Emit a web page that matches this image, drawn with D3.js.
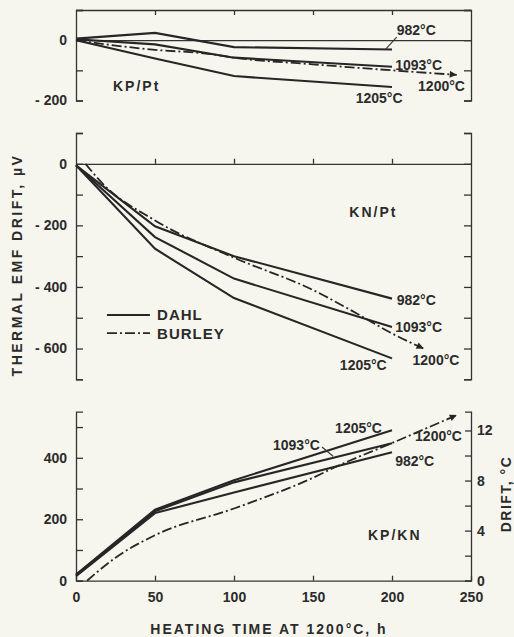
<!DOCTYPE html>
<html lang="en">
<head>
  <meta charset="UTF-8">
  <title>Thermal EMF drift</title>
  <script src="https://d3js.org/d3.v7.min.js"></script>
  <style>
    body {
      margin: 0;
      background: #f7f6ee;
    }
    svg text {
      font-family: "Liberation Sans", Arial, sans-serif;
      font-weight: bold;
      fill: #2b2b2b;
    }
    .axis path,
    .axis line {
      fill: none;
      stroke: #333;
      stroke-width: 1.3px;
    }
    .axis text {
      font-size: 14px;
    }
    .dahl {
      fill: none;
      stroke: #262626;
      stroke-width: 2.1px;
    }
    .burley {
      fill: none;
      stroke: #262626;
      stroke-width: 1.8px;
      stroke-dasharray: 10 3 2 3;
    }
    .lbl {
      font-size: 14px;
    }
    .panel {
      font-size: 14px;
      letter-spacing: 2px;
    }
  </style>
</head>
<body>
  <svg id="chart" width="514" height="637"></svg>

  <script>
    // heating time, h (Dahl measurements)
    const hours = [0, 50, 100, 200];

    // KP/Pt drift, microvolts
    const kpPt982 = [5, 24, -23, -31];
    const kpPt1093 = [3, -14, -58, -88];
    const kpPt1205 = [0, -61, -119, -155];
    const burleyPtHours = [0, 25, 50, 85, 100, 150, 200, 241];
    const burleyPt = [0, -18, -32, -46, -58, -80, -100, -115];

    // KN/Pt drift, microvolts
    const knPt982 = [-5, -203, -300, -438];
    const knPt1093 = [-5, -238, -373, -530];
    const knPt1205 = [-5, -276, -436, -632];
    const burleyKnHours = [6, 17, 50, 100, 150, 178, 200, 220];
    const burleyKn = [0, -65, -184, -305, -410, -487, -551, -600];

    // KP/KN drift, microvolts
    const kpKn982 = [15, 220, 287, 418];
    const kpKn1093 = [18, 226, 320, 447];
    const kpKn1205 = [20, 231, 327, 490];
    const burleyKpKnHours = [7, 25, 50, 100, 150, 165, 200, 241];
    const burleyKpKn = [0, 75, 148, 235, 335, 372, 448, 539];

    const xTicks = [0, 50, 100, 150, 200, 250];

    const svg = d3.select("#chart");
    svg.append("rect").attr("width", 514).attr("height", 637).attr("fill", "#f7f6ee");

    svg.append("defs").append("marker")
      .attr("id", "arrow")
      .attr("viewBox", "0 0 10 10")
      .attr("refX", 10).attr("refY", 5)
      .attr("markerWidth", 11).attr("markerHeight", 7)
      .attr("markerUnits", "userSpaceOnUse")
      .attr("orient", "auto")
      .append("path")
      .attr("d", "M0,0 L10,5 L0,10 z")
      .attr("fill", "#262626");

    const x = d3.scaleLinear().domain([0, 250]).range([76, 471]);
    const yTop = d3.scaleLinear().domain([-200, 100]).range([100.5, 10]);
    const yMid = d3.scaleLinear().domain([-700, 100]).range([379.3, 133]);
    const yBot = d3.scaleLinear().domain([0, 550]).range([580.7, 411.7]);
    const yBotR = d3.scaleLinear().domain([0, 13.5]).range([580.7, 411.7]);

    const fmt = keep => v => keep.includes(v) ? (v < 0 ? "- " + (-v) : String(v)) : "";

    function series(xs, ys) {
      return xs.map((t, i) => [t, ys[i]]);
    }

    function drawLine(y, data, cls, curve) {
      const line = d3.line().x(d => x(d[0])).y(d => y(d[1])).curve(curve || d3.curveLinear);
      const p = svg.append("path").attr("class", cls).attr("d", line(data));
      if (cls === "burley") p.attr("marker-end", "url(#arrow)");
      return p;
    }

    function label(y, t, v, txt, cls) {
      svg.append("text").attr("class", cls || "lbl")
        .attr("x", x(t)).attr("y", y(v))
        .text(txt);
    }

    function leader(y, t0, v0, t1, v1) {
      svg.append("line")
        .attr("x1", x(t0)).attr("y1", y(v0))
        .attr("x2", x(t1)).attr("y2", y(v1))
        .attr("stroke", "#333").attr("stroke-width", 1.1);
    }

    // ---------- top panel: KP/Pt ----------
    svg.append("g").attr("class", "axis")
      .attr("transform", `translate(${x(0)},0)`)
      .call(d3.axisLeft(yTop).tickValues([100, 0, -100, -200]).tickSize(-7)
        .tickPadding(9).tickFormat(fmt([0, -200])));
    svg.append("g").attr("class", "axis")
      .attr("transform", `translate(${x(250)},0)`)
      .call(d3.axisRight(yTop).tickValues([100, 0, -100, -200]).tickSize(-7).tickFormat(""));
    svg.append("g").attr("class", "axis")
      .attr("transform", `translate(0,${yTop(100)})`)
      .call(d3.axisBottom(x).tickValues([50, 100, 150, 200]).tickSizeInner(5)
        .tickSizeOuter(0).tickFormat(""));
    svg.append("g").attr("class", "axis")
      .attr("transform", `translate(0,${yTop(0)})`)
      .call(d3.axisBottom(x).tickValues([]).tickSizeOuter(0));

    drawLine(yTop, series(hours, kpPt982), "dahl");
    drawLine(yTop, series(hours, kpPt1093), "dahl");
    drawLine(yTop, series(hours, kpPt1205), "dahl");
    drawLine(yTop, series(burleyPtHours, burleyPt), "burley", d3.curveMonotoneX);

    label(yTop, 203, 16, "982°C");
    label(yTop, 202, -99, "1093°C");
    label(yTop, 216.5, -170, "1200°C");
    label(yTop, 177, -208, "1205°C");
    label(yTop, 23.4, -168, "KP/Pt", "panel");
    leader(yTop, 195.6, -32, 203, 10);

    // ---------- middle panel: KN/Pt ----------
    const midTicks = d3.range(-700, 101, 100);
    svg.append("g").attr("class", "axis")
      .attr("transform", `translate(${x(0)},0)`)
      .call(d3.axisLeft(yMid).tickValues(midTicks).tickSize(-7)
        .tickPadding(9).tickFormat(fmt([0, -200, -400, -600])));
    svg.append("g").attr("class", "axis")
      .attr("transform", `translate(${x(250)},0)`)
      .call(d3.axisRight(yMid).tickValues(midTicks).tickSize(-7).tickFormat(""));
    svg.append("g").attr("class", "axis")
      .attr("transform", `translate(0,${yMid(0)})`)
      .call(d3.axisTop(x).tickValues([50, 100, 150, 200]).tickSizeInner(5)
        .tickSizeOuter(0).tickFormat(""));

    drawLine(yMid, series(hours, knPt982), "dahl");
    drawLine(yMid, series(hours, knPt1093), "dahl");
    drawLine(yMid, series(hours, knPt1205), "dahl");
    drawLine(yMid, series(burleyKnHours, burleyKn), "burley", d3.curveMonotoneX);

    label(yMid, 203, -459, "982°C");
    label(yMid, 202, -546, "1093°C");
    label(yMid, 213, -654, "1200°C");
    label(yMid, 167, -670, "1205°C");
    label(yMid, 173, -173, "KN/Pt", "panel");

    // legend
    const legend = [["DAHL", "dahl", -491], ["BURLEY", "burley", -550]];
    legend.forEach(([name, cls, v]) => {
      svg.append("line").attr("class", cls)
        .attr("x1", x(19.6)).attr("x2", x(46.8))
        .attr("y1", yMid(v)).attr("y2", yMid(v));
      svg.append("text").attr("class", "lbl")
        .attr("x", x(51.3)).attr("y", yMid(v)).attr("dy", "0.36em")
        .style("font-size", "15px").style("letter-spacing", "1px")
        .text(name);
    });

    // ---------- bottom panel: KP/KN ----------
    svg.append("g").attr("class", "axis")
      .attr("transform", `translate(${x(0)},0)`)
      .call(d3.axisLeft(yBot).tickValues(d3.range(0, 501, 100)).tickSize(-7)
        .tickPadding(9).tickFormat(fmt([0, 200, 400])));
    svg.append("g").attr("class", "axis")
      .attr("transform", `translate(${x(250)},0)`)
      .call(d3.axisRight(yBotR).tickValues(d3.range(0, 13, 2)).tickSize(-6)
        .tickPadding(6).tickFormat(fmt([0, 4, 8, 12])));
    svg.append("g").attr("class", "axis")
      .attr("transform", `translate(0,${yBot(0)})`)
      .call(d3.axisBottom(x).tickValues(xTicks).tickSizeInner(-5)
        .tickSizeOuter(0).tickPadding(11));

    drawLine(yBot, series(hours, kpKn982), "dahl");
    drawLine(yBot, series(hours, kpKn1093), "dahl");
    drawLine(yBot, series(hours, kpKn1205), "dahl");
    drawLine(yBot, series(burleyKpKnHours, burleyKpKn), "burley", d3.curveMonotoneX);

    label(yBot, 164, 481, "1205°C");
    label(yBot, 124.7, 425, "1093°C");
    label(yBot, 214.6, 455, "1200°C");
    label(yBot, 202, 372, "982°C");
    label(yBot, 184.8, 132, "KP/KN", "panel");
    leader(yBot, 155.7, 435, 162.7, 405);

    // ---------- axis titles ----------
    svg.append("text")
      .attr("transform", "translate(22,265) rotate(-90)")
      .attr("text-anchor", "middle")
      .style("font-size", "14px").style("letter-spacing", "2.5px")
      .text("THERMAL EMF DRIFT, µV");
    svg.append("text")
      .attr("transform", "translate(511,494) rotate(-90)")
      .attr("text-anchor", "middle")
      .style("font-size", "14px").style("letter-spacing", "1.5px")
      .text("DRIFT, °C");
    svg.append("text")
      .attr("x", 269).attr("y", 634)
      .attr("text-anchor", "middle")
      .style("font-size", "14px").style("letter-spacing", "2px")
      .text("HEATING TIME AT 1200°C, h");
  </script>
</body>
</html>
